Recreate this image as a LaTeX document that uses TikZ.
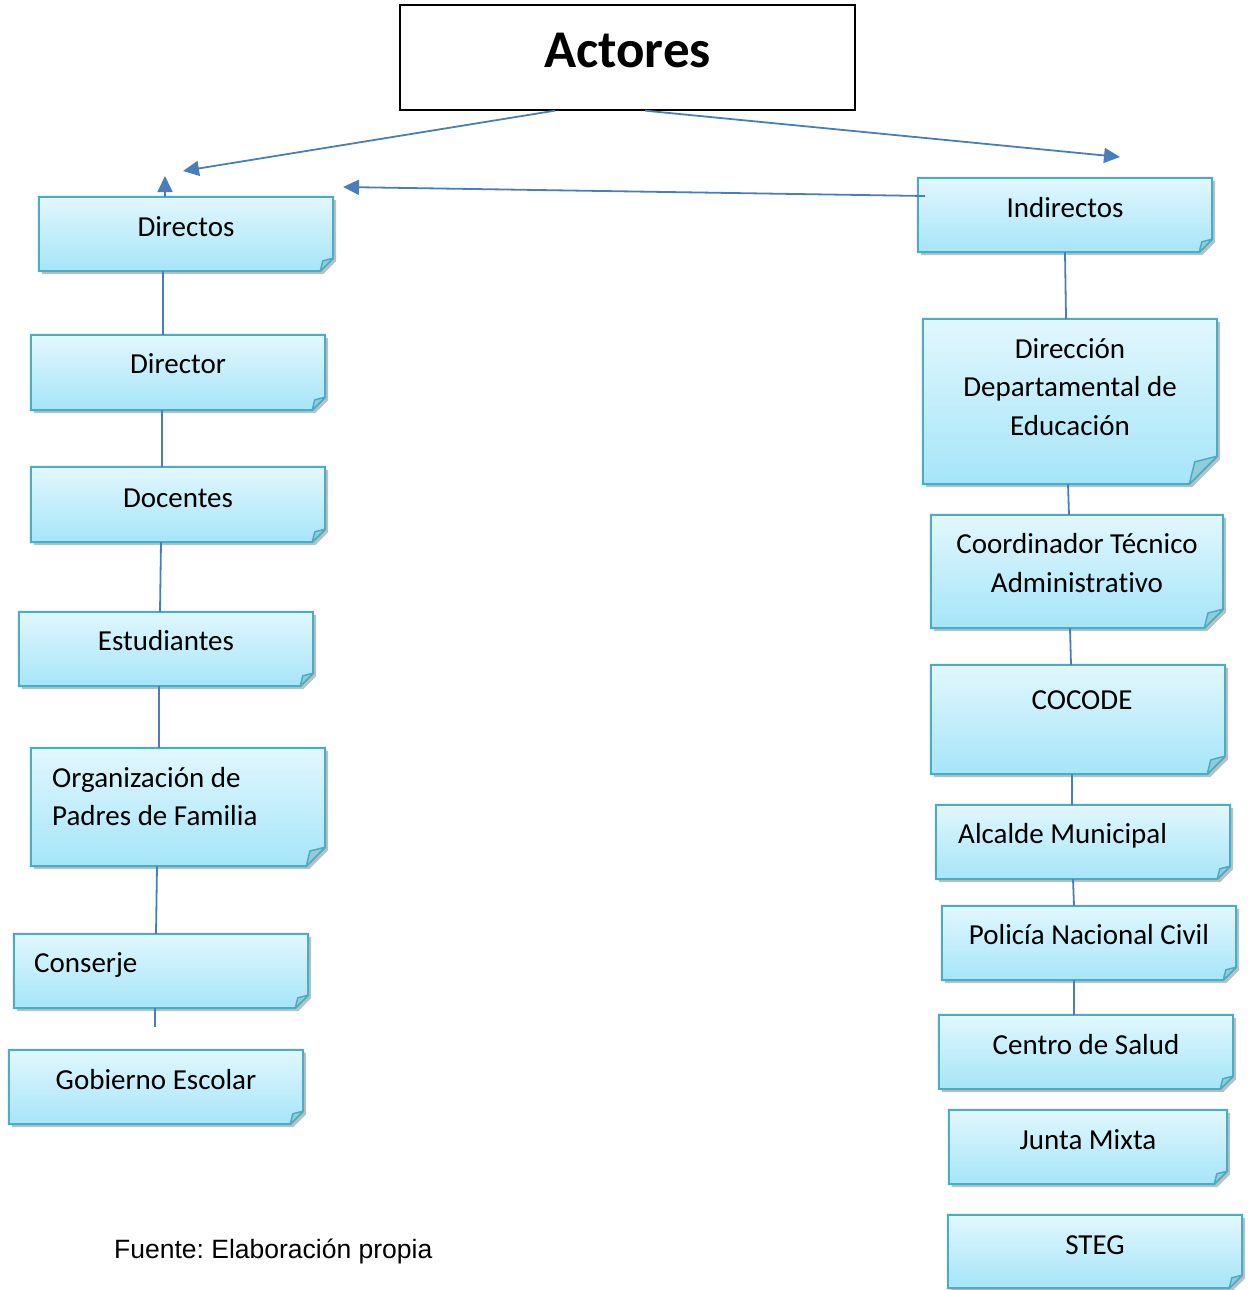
\documentclass[tikz,border=0pt]{standalone}
\usepackage{fontspec}
\setmainfont[RawFeature=-liga]{Carlito}
\newfontfamily\arialf{Liberation Sans}
\frenchspacing
\usetikzlibrary{arrows.meta,shadows,fit,calc}
\definecolor{sbord}{HTML}{4BACC6}
\definecolor{stop}{HTML}{E2F7FD}
\definecolor{sbot}{HTML}{A5E5F8}
\definecolor{sflap}{HTML}{93CCD9}
\definecolor{arr}{HTML}{4A7EBB}
\tikzset{
 stickyfill/.style={draw=sbord, line width=2pt, top color=stop, bottom color=sbot,
   drop shadow={opacity=0.25, shadow xshift=3pt, shadow yshift=-3pt, fill=black}},
 flap/.style={draw=sbord, line width=1.5pt, fill=sflap, line join=round},
 lbl/.style={font=\fontsize{29}{38}\selectfont, inner sep=0pt, anchor=base},
 lbll/.style={lbl, anchor=base west},
 conn/.style={draw=arr, line width=1.8pt},
 arrw/.style={conn, -{Triangle[length=16pt,width=15pt]}},
 boxfit/.style={inner sep=0pt, draw=none},
}
\newcommand\sticky[6]{%
 \node[boxfit, fit={(#2,#3) (#4,#5)}] (#1) {};
 \path[stickyfill] (#1.north west) -- (#1.north east) -- ([yshift=#6pt]#1.south east)
   -- ([xshift=-#6pt]#1.south east) -- (#1.south west) -- cycle;
 \path[flap] ([yshift=#6pt]#1.south east) -- ([xshift=-#6pt]#1.south east)
   -- ([xshift=-0.8*#6pt, yshift=0.8*#6pt]#1.south east) -- cycle;
}
\begin{document}
\begin{tikzpicture}[x=1pt,y=-1pt]
\useasboundingbox (0,0) rectangle (1251,1290);
% title
\node[draw=black, line width=1.3pt, fill=white, minimum width=455pt, minimum height=105pt, inner sep=0pt] (act) at (627.5,57.5) {};
\node[font=\bfseries\fontsize{53}{60}\selectfont, inner sep=0pt, anchor=base] (tact) at (627.5,67) {Actores};
% left column
\sticky{dirs}{39}{197}{333}{271}{13}
\sticky{dtor}{31}{335}{325}{410}{13}
\sticky{doc}{31}{467}{325}{542}{13}
\sticky{est}{19}{612}{313}{686}{13}
\sticky{org}{31}{748}{325}{866}{19}
\sticky{con}{14}{934}{308}{1008}{13}
\sticky{gob}{9}{1050}{303}{1124}{13}
% right column
\sticky{ind}{918}{178}{1212}{252}{13}
\sticky{dde}{923}{319}{1217}{484}{28}
\sticky{cta}{931}{515}{1223}{628}{19}
\sticky{coc}{931}{665}{1225}{774}{18}
\sticky{alc}{936}{805}{1230}{879}{13}
\sticky{pnc}{942}{906}{1236}{980}{13}
\sticky{cds}{939}{1015}{1233}{1089}{13}
\sticky{jm}{949}{1110}{1227}{1184}{13}
\sticky{steg}{948}{1215}{1242}{1288}{13}
% labels
\node[lbl] (t1) at (186,236) {Directos};
\node[lbl] (t2) at (178,373) {Director};
\node[lbl] (t3) at (178,507) {Docentes};
\node[lbl] (t4) at (166,650) {Estudiantes};
\node[lbll] (t5a) at (52,787) {Organización de};
\node[lbll] (t5b) at (52,825) {Padres de Familia};
\node[lbll] (t6) at (34,972) {Conserje};
\node[lbl] (t7) at (156,1089) {Gobierno Escolar};
\node[lbl] (r1) at (1065,217) {Indirectos};
\node[lbl] (r2a) at (1070,358) {Dirección};
\node[lbl] (r2b) at (1070,396) {Departamental de};
\node[lbl] (r2c) at (1070,435) {Educación};
\node[lbl] (r3a) at (1077,553) {Coordinador Técnico};
\node[lbl] (r3b) at (1077,592) {Administrativo};
\node[lbl] (r4) at (1082,709) {COCODE};
\node[lbll] (r5) at (958,843) {Alcalde Municipal};
\node[lbl] (r6) at (1089,944) {Policía Nacional Civil};
\node[lbl] (r7) at (1086,1054) {Centro de Salud};
\node[lbl] (r8) at (1088,1149) {Junta Mixta};
\node[lbl] (r9) at (1095,1254) {STEG};
\node[font=\arialf\fontsize{26.5}{30}\selectfont, inner sep=0pt, anchor=base west] (fte) at (114,1258) {Fuente: Elaboración propia};
% arrows
\coordinate (e1) at (183,171);
\coordinate (e2) at (1120,157);
\coordinate (e3) at (343,187);
\coordinate (e4) at (165,176);
\coordinate (s3) at (925,196);
\draw[arrw] ([xshift=-72.5pt]act.south) -- (e1);
\draw[arrw] ([xshift=17.5pt]act.south) -- (e2);
\draw[arrw] (s3) -- (e3);
\draw[arrw] (165,0 |- dirs.north) -- (e4);
% vertical connectors left
\draw[conn] (163,0 |- dirs.south) -- (163,0 |- dtor.north);
\draw[conn] (162,0 |- dtor.south) -- (162,0 |- doc.north);
\draw[conn] (161,0 |- doc.south) -- (160,0 |- est.north);
\draw[conn] (159,0 |- est.south) -- (159,0 |- org.north);
\draw[conn] (157,0 |- org.south) -- (156,0 |- con.north);
\coordinate (e5) at (155,1027);
\draw[conn] (155,0 |- con.south) -- (e5);
% vertical connectors right
\draw[conn] (1065,0 |- ind.south) -- (1066,0 |- dde.north);
\draw[conn] (1068,0 |- dde.south) -- (1069,0 |- cta.north);
\draw[conn] (1070,0 |- cta.south) -- (1071,0 |- coc.north);
\draw[conn] (1072,0 |- coc.south) -- (1072,0 |- alc.north);
\draw[conn] (1073,0 |- alc.south) -- (1074,0 |- pnc.north);
\draw[conn] (1074,0 |- pnc.south) -- (1074,0 |- cds.north);
\end{tikzpicture}
\end{document}
